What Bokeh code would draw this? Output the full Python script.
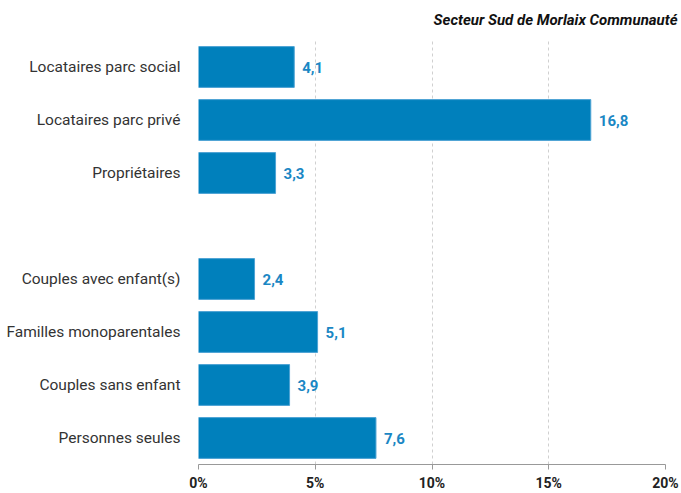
from bokeh.plotting import figure
from bokeh.models import ColumnDataSource, FactorRange, Range1d, Title, FixedTicker
from bokeh.core.properties import value
from bokeh.embed import file_html
from bokeh.resources import INLINE

title_text = "Secteur Sud de Morlaix Communauté"
group_statut = ["Locataires parc social", "Locataires parc privé", "Propriétaires"]
values_statut = [4.1, 16.8, 3.3]
group_menage = ["Couples avec enfant(s)", "Familles monoparentales", "Couples sans enfant", "Personnes seules"]
values_menage = [2.4, 5.1, 3.9, 7.6]
spacer = " "
x_ticks = [0, 5, 10, 15, 20]

categories = group_statut + group_menage
values = values_statut + values_menage
labels = [("%.1f" % v).replace(".", ",") for v in values]
factors = list(reversed(group_statut + [spacer] + group_menage))

src = ColumnDataSource(dict(cat=categories, val=values, lab=labels))

p = figure(width=681, height=493, y_range=FactorRange(factors=factors, range_padding=0),
           x_range=Range1d(0, 20), output_backend="svg", toolbar_location=None,
           min_border_left=198, min_border_right=16, min_border_top=40, min_border_bottom=27)

p.hbar(y="cat", right="val", left=0, height=0.77, source=src,
       fill_color="#0080BC", line_color="#4da3d4", line_width=1)
p.text(x="val", y="cat", text="lab", source=src, x_offset=8,
       text_baseline="middle", text_align="left",
       text_font=value("Roboto"), text_font_style="bold", text_font_size="15px",
       text_color="#1a87c4")

t = Title(text=title_text, align="right", vertical_align="top", text_font="Roboto",
          text_font_style="bold italic", text_font_size="15px", text_color="#111111",
          offset=-12, standoff=20)
p.add_layout(t, "above")

p.outline_line_color = None
p.ygrid.grid_line_color = None
p.xgrid.grid_line_color = "#d0d0d0"
p.xgrid.grid_line_dash = "3 3"
p.xgrid.ticker = FixedTicker(ticks=x_ticks)

p.xaxis.ticker = FixedTicker(ticks=x_ticks)
p.xaxis.major_label_overrides = {t_: "%d%%" % t_ for t_ in x_ticks}
p.xaxis.axis_line_color = "#999999"
p.xaxis.major_tick_line_color = "#999999"
p.xaxis.major_tick_in = 0
p.xaxis.major_tick_out = 5
p.xaxis.minor_tick_line_color = None
p.xaxis.major_label_text_font = "Roboto"
p.xaxis.major_label_text_font_style = "bold"
p.xaxis.major_label_text_font_size = "14px"
p.xaxis.major_label_text_color = "#222222"
p.xaxis.major_label_standoff = 5

p.yaxis.axis_line_color = None
p.yaxis.major_tick_line_color = None
p.yaxis.minor_tick_line_color = None
p.yaxis.major_label_text_font = "Roboto"
p.yaxis.major_label_text_font_size = "15.5px"
p.yaxis.major_label_text_color = "#333333"
p.yaxis.major_label_standoff = 12

open("out.html", "w").write(file_html(p, INLINE))
